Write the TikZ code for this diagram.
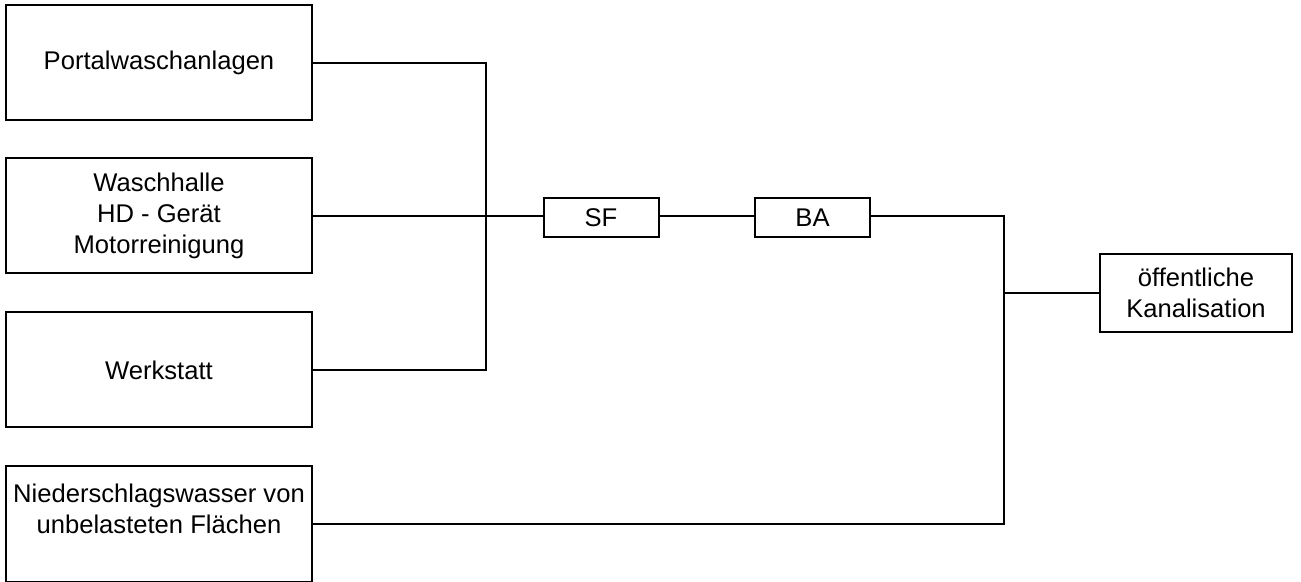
\documentclass[tikz,border=0pt]{standalone}
\usepackage{fontspec}
\setmainfont{Liberation Sans}
\usepackage{tikz}

\begin{document}
\begin{tikzpicture}[
		x=0.5pt, y=-0.5pt,
		line width=1pt,
		every node/.style={rectangle, draw, align=center, inner sep=0pt,
			font=\fontsize{12.8}{15.6}\selectfont},
		source/.style={minimum width=153pt, minimum height=57.5pt},
		stage/.style={minimum width=57.5pt, minimum height=19.5pt}
	]
  \useasboundingbox (0,0) rectangle (1301,582);
  \node (portal) [source] at (159, 63) {Portalwaschanlagen};
  \node (halle) [source] at (159, 216) {Waschhalle\\HD - Gerät\\Motorreinigung};
  \node (werk) [source] at (159, 370) {Werkstatt};
  \node (regen) [source] at (159, 524) {Niederschlagswasser von\\unbelasteten Flächen\\\mbox{}};
  \node (sf) [stage] at (601, 217.5) {SF};
  \node (ba) [stage] at (812.5, 217.5) {BA};
  \node (kanal) [minimum width=96pt, minimum height=39pt] at (1196, 293) {öffentliche\\Kanalisation};
  \coordinate (j1) at (486, 216);
  \coordinate (j2) at (1004, 293);
  \draw (portal.east) -| (j1);
  \draw (werk.east) -| (j1);
  \draw (halle.east) -- (sf.west |- halle.east);
  \draw (sf.east |- halle.east) -- (ba.west |- halle.east);
  \draw (ba.east |- halle.east) -| (j2);
  \draw (regen.east) -| (j2);
  \draw (j2) -- (kanal.west);
\end{tikzpicture}
\end{document}
